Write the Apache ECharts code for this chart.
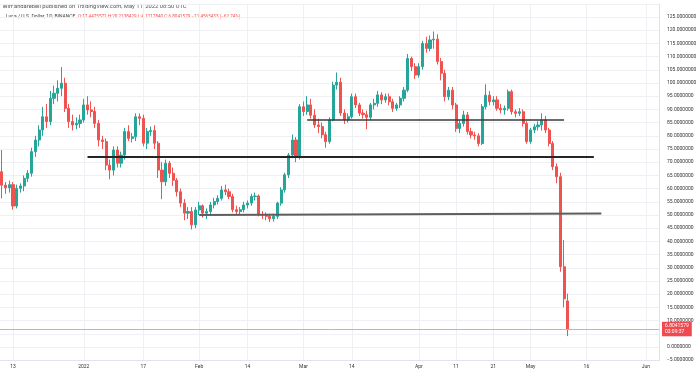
<!DOCTYPE html>
<html><head><meta charset="utf-8">
<script src="https://cdn.jsdelivr.net/npm/echarts@6/dist/echarts.min.js"></script>
<style>html,body{margin:0;padding:0;background:#fff}#c{width:700px;height:376px}</style>
</head><body><div id="c"></div>
<script>
// ---- data (daily candles, Dec 10 2021 .. May 11 2022) ----
const startDate = [2021, 11, 10];   // y, m(0-based), d
const totalDays = 177;              // axis runs to Jun 4 2022
const open = [66.4,61.3,60.3,61.5,53.4,60.1,61.0,63.9,65.8,74.0,78.4,82.2,87.2,85.4,94.2,96.1,98.0,99.9,90.4,85.4,84.1,84.7,86.0,91.7,89.8,89.2,84.7,78.4,77.8,68.9,67.0,74.6,69.6,72.7,81.6,79.0,79.6,87.2,86.6,77.2,81.6,82.0,77.2,67.0,62.6,69.6,65.8,63.2,58.8,54.5,50.7,51.3,46.3,51.9,53.5,50.7,51.3,53.8,55.1,56.3,59.5,58.8,57.0,52.0,51.3,52.0,53.8,54.5,57.0,57.2,50.1,50.0,49.5,48.6,49.5,54.5,59.5,65.2,72.7,78.4,72.1,91.0,89.2,91.7,87.8,84.1,83.5,80.4,77.8,86.0,99.2,100.3,88.6,86.0,87.2,94.8,91.7,88.6,88.0,87.0,91.7,92.3,95.5,93.6,94.8,92.9,90.4,91.7,94.2,97.3,109.3,106.2,103.0,106.2,115.0,113.1,116.3,116.6,108.1,103.7,94.8,97.3,91.7,82.8,84.7,87.9,81.6,80.3,80.0,77.1,91.0,95.4,92.9,93.6,90.4,89.8,90.4,96.7,89.1,88.5,89.1,84.7,77.8,82.2,83.4,84.1,86.0,82.2,77.1,68.3,64.5,30.4,17.4475571];
const close = [61.3,60.3,61.5,53.4,60.1,61.0,63.9,65.8,74.0,78.4,82.2,87.2,85.4,94.2,96.1,98.0,99.9,90.4,85.4,84.1,84.7,86.0,91.7,89.8,89.2,84.7,78.4,77.8,68.9,67.0,74.6,69.6,72.7,81.6,79.0,79.6,87.2,86.6,77.2,81.6,82.0,77.2,67.0,62.6,69.6,65.8,63.2,58.8,54.5,50.7,51.3,46.3,51.9,53.5,50.7,51.3,53.8,55.1,56.3,59.5,58.8,57.0,52.0,51.3,52.0,53.8,54.5,57.0,57.2,50.1,50.0,49.5,48.6,49.5,54.5,59.5,65.2,72.7,78.4,72.1,91.0,89.2,91.7,87.8,84.1,83.5,80.4,77.8,86.0,99.2,100.3,88.6,86.0,87.2,94.8,91.7,88.6,88.0,87.0,91.7,92.3,95.5,93.6,94.8,92.9,90.4,91.7,94.2,97.3,109.3,106.2,103.0,106.2,115.0,113.1,116.3,116.6,108.1,103.7,94.8,97.3,91.7,82.8,84.7,87.9,81.6,80.3,80.0,77.1,91.0,95.4,92.9,93.6,90.4,89.8,90.4,96.7,89.1,88.5,89.1,84.7,77.8,82.2,83.4,84.1,86.0,82.2,77.1,68.3,64.5,30.4,18.26,6.8041579];
const low = [56.3,58.0,58.5,52.0,52.5,58.5,59.0,62.5,64.5,72.0,76.0,80.0,83.0,84.0,92.0,93.0,95.0,89.0,83.0,82.0,82.5,83.0,85.0,88.0,87.0,83.0,76.0,75.0,67.0,63.5,65.0,68.0,68.0,71.0,78.0,77.5,78.0,84.0,76.0,75.0,80.0,75.0,64.0,56.0,61.0,64.0,61.0,57.0,53.0,48.0,48.5,44.5,45.0,50.0,49.0,48.5,50.0,52.5,54.0,55.5,57.5,56.0,51.0,50.0,50.0,51.0,52.5,53.5,55.5,49.5,48.5,48.0,47.3,47.5,48.5,53.5,58.5,64.0,71.5,70.0,71.0,87.5,88.0,86.5,83.0,81.0,79.0,75.5,77.0,85.5,97.5,87.5,84.5,85.0,86.5,90.5,87.5,86.5,82.5,86.0,90.0,91.0,92.0,92.5,91.5,89.0,89.5,90.5,93.0,96.5,104.5,101.5,102.0,105.0,111.5,112.0,113.0,107.0,101.0,93.0,93.5,90.0,81.5,81.0,83.5,80.5,79.0,78.5,76.0,76.5,90.0,91.5,91.5,89.5,88.5,88.0,89.5,88.0,87.0,87.5,83.5,77.0,77.0,81.0,82.0,82.0,81.0,76.0,67.0,62.0,28.5,15.0,4.1217840];
const high = [74.6,62.5,63.0,62.5,61.5,62.0,65.0,67.0,75.5,80.0,84.0,91.0,92.0,97.0,99.0,101.0,106.0,102.0,92.0,88.0,87.0,88.0,94.0,95.0,93.0,91.0,86.0,80.0,79.0,71.0,76.0,76.0,74.0,83.0,84.0,81.0,88.5,88.5,88.0,83.0,83.5,84.0,78.0,70.0,71.0,70.5,68.0,64.0,60.0,56.0,53.0,53.0,53.0,55.0,54.0,52.5,55.0,56.5,57.5,61.0,61.5,60.0,58.0,53.5,53.0,55.0,55.5,58.0,58.5,57.8,51.5,51.0,50.5,50.5,55.0,60.5,66.0,73.5,80.5,79.5,92.0,93.0,95.0,94.0,90.0,86.5,85.0,81.5,87.0,100.5,104.0,102.0,90.0,88.5,96.0,96.0,92.5,90.0,89.5,92.5,94.0,97.0,96.5,96.0,96.0,94.0,92.5,95.0,98.5,111.0,110.0,107.5,107.5,116.0,117.5,118.0,119.5,118.5,109.5,105.0,98.5,98.5,92.5,86.0,89.5,89.0,83.0,81.5,81.0,92.0,99.5,97.0,95.0,95.0,92.0,91.5,97.5,97.5,90.0,90.5,90.0,85.5,83.0,84.5,85.5,88.5,87.5,83.0,78.0,69.5,66.0,40.5,20.2138429];

const tickLabels = {
  '2021-12-13':'13','2022-01-01':'2022','2022-01-17':'17','2022-02-01':'Feb',
  '2022-02-14':'14','2022-03-01':'Mar','2022-03-14':'14','2022-04-01':'Apr',
  '2022-04-11':'11','2022-04-21':'21','2022-05-01':'May','2022-05-16':'16','2022-06-01':'Jun'
};
const trendFrom = [['2022-03-02', 86.2], ['2022-01-02', 72.0], ['2022-02-01', 50.0]];
const trendTo   = [['2022-05-10', 86.2], ['2022-05-18', 72.0], ['2022-05-20', 50.6]];
const trendColor = ['#3a3a3a', '#262626', '#5e5e5e'];
const trendWidth = [1.5, 2, 2];
const lastPrice = 6.8041579;
const lastPriceTimer = '03:09:37';
const headerTop = 'elimandarebell published on TradingView.com, May 11, 2022 08:50 UTC';
const headerSymbol = 'Luna / U.S. Dollar, 1D, BINANCE';
const headerOHLC = 'O:17.4475571 H:20.2138429 L:4.1217840 C:6.8041579 \u221211.4565433 (\u221262.74%)';

// ---- build ----
const dates = [];
const d0 = Date.UTC(startDate[0], startDate[1], startDate[2]);
for (let k = 0; k < totalDays; k++) dates.push(new Date(d0 + k * 86400000).toISOString().slice(0, 10));
const candles = dates.map((d, k) => k < open.length ? [open[k], close[k], low[k], high[k]] : '-');

const FONT = 'Roboto';
const UP = '#26a69a', DOWN = '#ef5350';
const isTick = (i, v) => tickLabels[v] !== undefined;

const markData = trendFrom.map((f, k) => [
  { coord: f, lineStyle: { color: trendColor[k], width: trendWidth[k], type: 'solid' }, label: { show: false } },
  { coord: trendTo[k] }
]);

const chart = echarts.init(document.getElementById('c'), null, { renderer: 'canvas' });
chart.setOption({
  animation: false,
  backgroundColor: '#ffffff',
  grid: { left: 0, right: 41, top: 3.8, bottom: 15.8 },
  xAxis: {
    type: 'category', data: dates, boundaryGap: true,
    axisLine: { show: true, onZero: false, lineStyle: { color: '#e0e3eb' } },
    axisTick: { show: false, alignWithLabel: true, interval: isTick },
    axisLabel: { interval: isTick, formatter: v => tickLabels[v] || '', color: '#333', fontSize: 5, fontFamily: FONT, margin: 4 },
    splitLine: { show: true, alignWithLabel: true, interval: isTick, lineStyle: { color: '#eef0f4', width: 1 } }
  },
  yAxis: {
    type: 'value', position: 'right', min: -5, max: 130, interval: 5, scale: false,
    axisLine: { show: true, lineStyle: { color: '#e0e3eb' } },
    axisTick: { show: false },
    axisLabel: {
      showMaxLabel: false, color: '#333', fontSize: 5, fontFamily: FONT, margin: 8,
      formatter: v => (v < 0 ? '\u2212' : '') + Math.abs(v).toFixed(7)
    },
    splitLine: { show: true, lineStyle: { color: '#eef0f4', width: 1 } }
  },
  series: [{
    type: 'candlestick', data: candles, barWidth: 2.6, z: 3,
    itemStyle: { color: UP, color0: DOWN, borderColor: UP, borderColor0: DOWN, borderWidth: 1 },
    markLine: {
      silent: true, symbol: ['none', 'none'], animation: false,
      data: markData
    }
  }, {
    // last-price line and axis badge
    type: 'line', data: [], z: 2,
    markLine: {
      silent: true, symbol: ['none', 'none'], animation: false,
      lineStyle: { color: '#f79ca1', width: 1, type: 'solid' },
      data: [{
        yAxis: lastPrice,
        label: {
          show: true, position: 'end', distance: 3,
          formatter: lastPrice.toFixed(7) + '\n' + lastPriceTimer,
          backgroundColor: '#f0494f', color: '#fff', fontSize: 5, lineHeight: 6,
          padding: [1.5, 3, 1, 3], fontFamily: FONT
        }
      }]
    }
  }],
  graphic: [
    { type: 'text', left: 3, top: 3.5, style: { text: headerTop, fontSize: 5.8, fontFamily: FONT, fill: '#555' } },
    { type: 'text', left: 6, top: 14, style: {
        text: '{a|' + headerSymbol + '}  {b|' + headerOHLC + '}',
        fontSize: 5, fontFamily: FONT,
        rich: { a: { fill: '#444', color: '#444', fontSize: 5, fontFamily: FONT }, b: { fill: '#ef5350', color: '#ef5350', fontSize: 4.6, fontFamily: FONT } }
    } }
  ]
});
</script></body></html>
